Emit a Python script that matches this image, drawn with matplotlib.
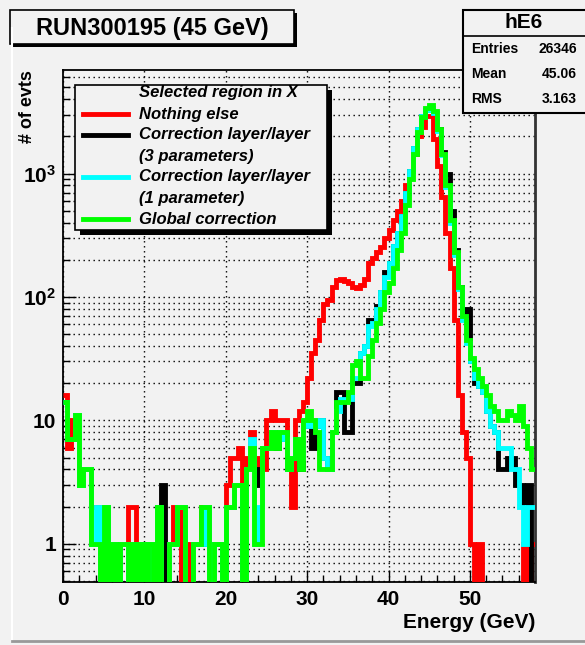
import numpy as np
import matplotlib
matplotlib.use("Agg")
import matplotlib.pyplot as plt
from matplotlib.ticker import FixedLocator, MultipleLocator, LogLocator, NullFormatter, FixedFormatter
from matplotlib.patches import Rectangle
from matplotlib.lines import Line2D

plt.rcParams['font.family'] = ['Liberation Sans', 'DejaVu Sans']
plt.rcParams['mathtext.fontset'] = 'custom'
plt.rcParams['mathtext.rm'] = 'Liberation Sans:bold'
plt.rcParams['mathtext.bf'] = 'Liberation Sans:bold'

# 0.5 GeV bins from 0 to 58 GeV
bin_edges = np.arange(0.0, 58.0 + 0.25, 0.5)

nothing_else = [
    16, 6, 10, 10, 3, 4, 4, 2, 2, 0,
    2, 0, 1, 0, 1, 1, 2, 2, 0, 1,
    0, 1, 1, 2, 0, 0, 1, 2, 2, 0,
    0, 1, 1, 1, 2, 1, 0, 1, 1, 0,
    3, 5, 5, 6, 3, 5, 8, 4, 5, 4,
    10, 12, 10, 10, 10, 4, 2, 10, 12, 14,
    22, 35, 45, 65, 88, 95, 120, 136, 140, 135,
    130, 120, 118, 125, 140, 187, 205, 230, 254, 298,
    350, 420, 500, 600, 800, 1050, 1450, 2000, 2400, 2900,
    2900, 1900, 1150, 650, 330, 170, 65, 16, 8, 5,
    1, 0, 1, 0, 0, 0, 0, 0, 0, 0,
    0, 0, 0, 1, 0, 1,
]

corr_3par = [
    14, 7, 7, 11, 3, 4, 4, 1, 1, 0,
    2, 0, 1, 0, 1, 1, 0, 1, 0, 1,
    0, 1, 0, 2, 3, 0, 1, 1, 2, 2,
    0, 0, 1, 1, 1, 2, 0, 1, 1, 0,
    2, 2, 3, 3, 0, 4, 6, 3, 4, 6,
    6, 8, 6, 8, 7, 4, 5, 7, 4, 9,
    9, 6, 9, 10, 5, 4, 8, 17, 17, 8,
    8, 20, 20, 35, 40, 65, 62, 85, 110, 160,
    190, 260, 330, 450, 700, 1050, 1600, 2300, 2900, 3300,
    3400, 3100, 2300, 1500, 1000, 500, 240, 120, 70, 80,
    30, 20, 19, 17, 12, 9, 8, 4, 4, 5,
    5, 3, 3, 2, 3, 0,
]

corr_1par = [
    14, 7, 7, 11, 3, 4, 4, 1, 2, 0,
    2, 0, 1, 0, 1, 1, 0, 1, 0, 1,
    0, 1, 0, 2, 0, 0, 1, 1, 2, 2,
    0, 0, 1, 1, 1, 2, 0, 1, 1, 0,
    2, 2, 3, 3, 0, 4, 7, 1, 2, 6,
    6, 8, 7, 8, 7, 4, 5, 7, 5, 10,
    9, 10, 9, 10, 5, 4, 8, 12, 15, 15,
    15, 22, 22, 35, 40, 58, 62, 80, 110, 145,
    190, 260, 330, 450, 700, 1050, 1600, 2300, 2900, 3300,
    3400, 3100, 2200, 1400, 780, 400, 220, 115, 65, 42,
    30, 22, 19, 17, 12, 9, 8, 6, 6, 6,
    4, 4, 2, 1, 2, 2,
]

global_corr = [
    14, 7, 7, 11, 3, 4, 4, 1, 1, 0,
    2, 0, 1, 0, 1, 1, 0, 1, 0, 1,
    0, 1, 0, 2, 0, 0, 1, 1, 2, 2,
    0, 0, 1, 1, 2, 2, 0, 1, 1, 0,
    2, 2, 3, 3, 0, 4, 6, 1, 1, 6,
    6, 8, 6, 8, 8, 4, 5, 7, 4, 10,
    12, 10, 8, 4, 4, 4, 8, 14, 14, 14,
    17, 28, 30, 22, 22, 33, 45, 61, 80, 110,
    130, 170, 240, 330, 560, 900, 1450, 2150, 2850, 3400,
    3600, 3200, 2300, 1450, 800, 420, 230, 120, 70, 45,
    32, 26, 22, 19, 16, 13, 12, 10, 10, 12,
    11, 10, 13, 9, 6, 4,
]

series = [
    ("Nothing else", nothing_else, "#ff0000"),
    ("Correction layer/layer\n(3 parameters)", corr_3par, "#000000"),
    ("Correction layer/layer\n(1 parameter)", corr_1par, "#00ffff"),
    ("Global correction", global_corr, "#00ff00"),
]

title_text = "RUN300195 (45 GeV)"
legend_header = "Selected region in X"
stats_name = "hE6"
stats_rows = [("Entries", "26346"), ("Mean", "45.06"), ("RMS", "3.163")]

x_major = [0, 10, 20, 30, 40, 50]
y_major = [1, 10, 100, 1000]
y_labels = ["1", "10", r"$\mathbf{10^{2}}$", r"$\mathbf{10^{3}}$"]

W, H = 585, 645
bg = "#f2f2f2"
fig = plt.figure(figsize=(W / 100, H / 100), dpi=100)
fig.patch.set_facecolor(bg)

# frame in pixel terms: left 63, right 535, top 70, bottom 582
ax = fig.add_axes([63 / W, 1 - 582 / H, (535 - 63) / W, (582 - 70) / H])
ax.set_facecolor(bg)
ax.set_yscale("log")
ax.set_xlim(0, 58)
ax.set_ylim(0.49, 6900)

for i, (name, vals, col) in enumerate(series):
    v = np.asarray(vals, dtype=float)
    v = np.where(v > 0, v, 1e-2)
    ax.stairs(v, bin_edges, color=col, lw=3.5, baseline=None, zorder=3 + i)

ax.xaxis.set_major_locator(FixedLocator(x_major))
ax.xaxis.set_minor_locator(MultipleLocator(2))
ax.yaxis.set_major_locator(FixedLocator(y_major))
ax.yaxis.set_minor_locator(LogLocator(base=10, subs=range(2, 10), numticks=20))
ax.yaxis.set_minor_formatter(NullFormatter())
ax.yaxis.set_major_formatter(FixedFormatter(y_labels))
ax.set_xticklabels([str(t) for t in x_major])

dots = (0, (1, 2.6))
ax.grid(True, which="major", axis="x", color="black", lw=1.0, ls=dots)
ax.grid(True, which="both", axis="y", color="black", lw=1.0, ls=dots)
ax.set_axisbelow(True)

ax.tick_params(which="both", direction="in", top=False, right=False,
               width=1.0, color="black")
ax.tick_params(axis="x", which="major", length=9, pad=6)
ax.tick_params(axis="x", which="minor", length=5)
ax.tick_params(axis="y", which="major", length=9, pad=5)
ax.tick_params(axis="y", which="minor", length=5)
for lab in ax.get_xticklabels() + ax.get_yticklabels():
    lab.set_fontweight("bold")
    lab.set_fontsize(15)

for s in ["left", "bottom", "top"]:
    ax.spines[s].set_linewidth(1.3)
ax.spines["right"].set_linewidth(2.0)
ax.spines["right"].set_color("#333333")

# overlay in pixel coordinates for boxes and labels
ov = fig.add_axes([0, 0, 1, 1], zorder=20)
ov.set_xlim(0, W)
ov.set_ylim(H, 0)
ov.axis("off")
ov.patch.set_alpha(0)

# pad bevel
ov.add_line(Line2D([12, 12], [28, 641], color="white", lw=1.5))
ov.add_line(Line2D([12, 585], [641, 641], color="#999999", lw=2.0))

# title box
ov.add_patch(Rectangle((13, 13), 284, 34, fc="black", ec="none"))
ov.add_patch(Rectangle((10, 10), 284, 34, fc=bg, ec="black", lw=1.2))
ov.text(152, 28, title_text, ha="center", va="center", fontsize=17,
        fontweight="bold")

# statistics box
ov.add_patch(Rectangle((463, 10), 130, 103, fc=bg, ec="black", lw=1.5))
ov.add_line(Line2D([463, 585], [36, 36], color="black", lw=1.2))
ov.text(524, 23, stats_name, ha="center", va="center", fontsize=15,
        fontweight="bold")
for k, (lab, val) in enumerate(stats_rows):
    yy = 49 + 25 * k
    ov.text(471, yy, lab, ha="left", va="center", fontsize=10, fontweight="bold")
    ov.text(577, yy, val, ha="right", va="center", fontsize=10, fontweight="bold")

# legend box
ov.add_patch(Rectangle((80, 90), 252, 145, fc="black", ec="none"))
ov.add_patch(Rectangle((75, 85), 252, 145, fc=bg, ec="black", lw=1.2))
leg_font = dict(fontsize=12, fontweight="bold", fontstyle="italic",
                ha="left", va="center")
ov.text(139, 93, legend_header, **leg_font)
row_y = [114, 135, 177, 219]
for (name, vals, col), yy in zip(series, row_y):
    ov.add_line(Line2D([83, 128], [yy, yy], color=col, lw=3.5))
    parts = name.split("\n")
    for j, p in enumerate(parts):
        ov.text(139, yy + 21 * j, p, **leg_font)

# axis titles
ov.text(535, 622, "Energy (GeV)", ha="right", va="center", fontsize=15,
        fontweight="bold")
ov.text(28, 70, "# of evts", ha="center", va="top", rotation=90,
        fontsize=13, fontweight="bold")

fig.savefig("out.png", dpi=100, facecolor=bg)
